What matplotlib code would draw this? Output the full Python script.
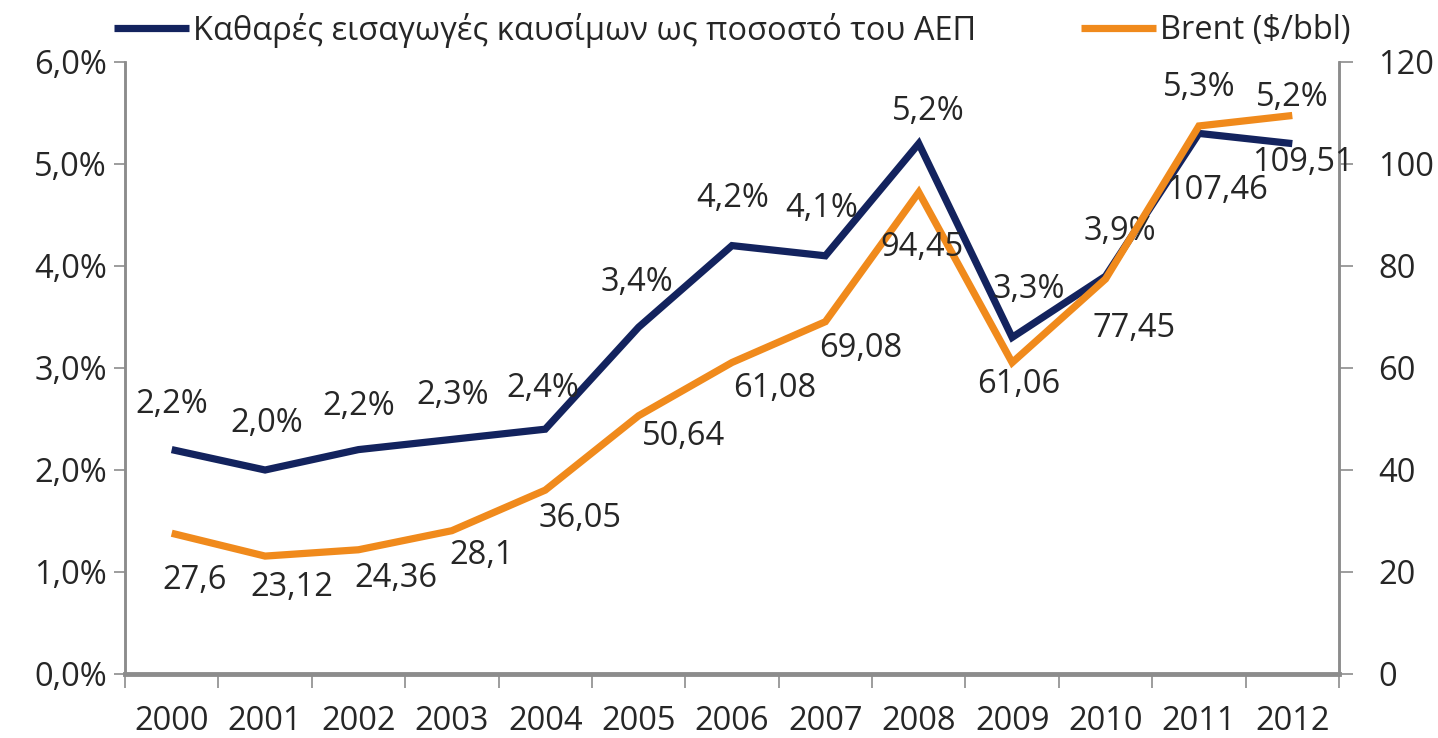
import numpy as np
import matplotlib
matplotlib.use('Agg')
import matplotlib.pyplot as plt

# data
years = ['2000', '2001', '2002', '2003', '2004', '2005', '2006',
         '2007', '2008', '2009', '2010', '2011', '2012']
fuel_pct_gdp = [2.2, 2.0, 2.2, 2.3, 2.4, 3.4, 4.2, 4.1, 5.2, 3.3, 3.9, 5.3, 5.2]
brent = [27.6, 23.12, 24.36, 28.1, 36.05, 50.64, 61.08, 69.08, 94.45,
         61.06, 77.45, 107.46, 109.51]

label_fuel = 'Καθαρές εισαγωγές καυσίμων ως ποσοστό του ΑΕΠ'
label_brent = 'Brent ($/bbl)'

# label offsets in pixels (dx, dy up positive), as placed in the original
fuel_off = [(0, 45), (2, 47), (0, 43), (1, 44), (-2, 41), (-2, 45), (1, 47),
            (-4, 47), (10, 32), (17, 48), (14, 45), (0, 46), (0, 46)]
brent_off = [(23, -47), (27, -31), (37, -29), (30, -25), (35, -28),
             (45, -21), (43, -26), (35, -27), (3, -55), (7, -22),
             (29, -49), (18, -65), (11, -47)]

navy = '#13235E'
orange = '#F08A1C'
grey = '#8C8C8C'
txt = '#262626'

plt.rcParams['font.family'] = ['Open Sans', 'DejaVu Sans']
fs = 23.5

fig = plt.figure(figsize=(14.38, 7.38), dpi=100)
ax = fig.add_axes([125/1438, 64/738, (1339-125)/1438, (674-62)/738])
ax2 = ax.twinx()

x = np.arange(len(years))
ln1, = ax.plot(x, fuel_pct_gdp, color=navy, lw=5.2, solid_joinstyle='miter',
               solid_capstyle='butt', zorder=2)
ln2, = ax2.plot(x, brent, color=orange, lw=5.2, solid_joinstyle='miter',
                solid_capstyle='butt', zorder=3)

# blue line under orange
ax.set_zorder(2)
ax2.set_zorder(3)
ax.patch.set_visible(False)
ax2.patch.set_visible(False)

for i, v in enumerate(fuel_pct_gdp):
    ax.annotate(f'{v:.1f}%'.replace('.', ','), (x[i], v),
                xytext=fuel_off[i], textcoords='offset pixels',
                ha='center', va='center', fontsize=fs, color=txt)
for i, v in enumerate(brent):
    ax2.annotate(f'{v:g}'.replace('.', ','), (x[i], v),
                 xytext=brent_off[i], textcoords='offset pixels',
                 ha='center', va='center', fontsize=fs, color=txt,
                 zorder=5)

ax.set_xlim(-0.5, len(years) - 0.5)
ax.set_ylim(0, 6)
ax2.set_ylim(0, 120)

ax.set_yticks(np.arange(0, 7))
ax.set_yticklabels([f'{t:.1f}%'.replace('.', ',') for t in range(7)])
ax2.set_yticks(np.arange(0, 121, 20))
ax2.set_yticklabels([str(t) for t in range(0, 121, 20)])

# category ticks between years, labels in the middle
ax.set_xticks(np.arange(-0.5, len(years), 1.0))
ax.set_xticklabels([])
ax.set_xticks(x, minor=True)
ax.set_xticklabels(years, minor=True)
ax.tick_params(axis='x', which='major', length=10, width=1.2, color=grey,
               direction='out')
ax.tick_params(axis='x', which='minor', length=0, pad=22, labelsize=fs,
               labelcolor=txt)
ax.tick_params(axis='y', length=8, width=1.2, color=grey, pad=5,
               labelsize=fs, labelcolor=txt)
ax2.tick_params(axis='y', length=10, width=1.2, color=grey, pad=18,
                labelsize=fs, labelcolor=txt)

for a in (ax, ax2):
    for s in a.spines.values():
        s.set_color(grey)
        s.set_linewidth(1.8)
    a.spines['top'].set_visible(False)
ax2.spines['bottom'].set_linewidth(3.5)

fig.legend([ln1, ln2], [label_fuel, label_brent], loc='center',
           bbox_to_anchor=(732/1438, 1 - 30/738), ncol=2, frameon=False,
           fontsize=fs, handlelength=2.3, handletextpad=0.12,
           columnspacing=3.2, borderpad=0, labelcolor=txt)

fig.savefig('out.png', dpi=100)
